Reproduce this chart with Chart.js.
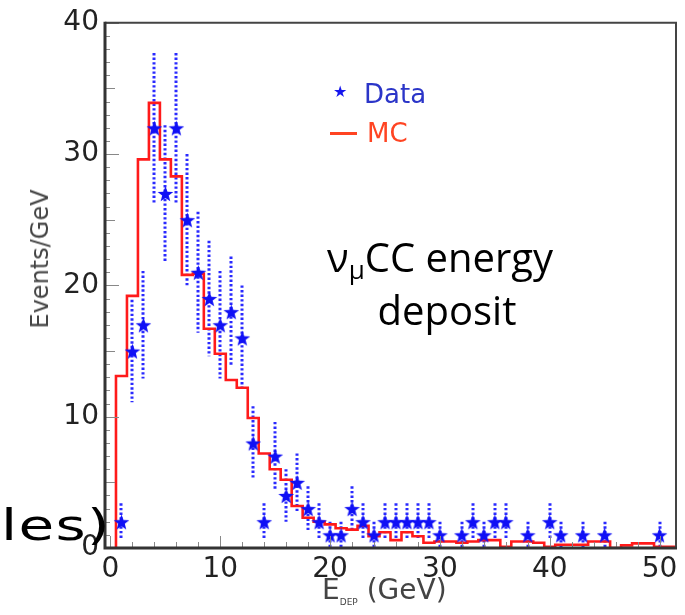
<!DOCTYPE html>
<html><head><meta charset="utf-8">
<script src="https://cdn.jsdelivr.net/npm/chart.js@4"></script>
<style>
html,body{margin:0;padding:0;background:#fff;width:685px;height:615px;overflow:hidden;}
#wrap{position:relative;width:685px;height:615px;}
canvas{position:absolute;left:0;top:0;}
.t{position:absolute;white-space:nowrap;line-height:1;}
</style></head><body>
<div id="wrap">
<canvas id="c" width="685" height="615"></canvas>
<div class="t" style="left:40px;top:259px;transform:translate(-50%,-50%) rotate(-90deg);font-family:'DejaVu Sans';font-size:24px;color:#444">Events/GeV</div>
<div class="t" style="left:322px;top:576px;font-family:'DejaVu Sans';font-size:28px;color:#444">E<span style="font-size:9px;vertical-align:-6px">DEP</span> (GeV)</div>
<div class="t" style="left:333px;top:84px;font-family:'DejaVu Sans';font-size:16px;color:#1515ee">★</div>
<div class="t" style="left:364px;top:81px;font-family:'DejaVu Sans';font-size:26px;color:#2b35c8">Data</div>
<div style="position:absolute;left:330px;top:132px;width:27px;height:2.5px;background:#ff4422"></div>
<div class="t" style="left:367px;top:120px;font-family:'DejaVu Sans';font-size:26px;color:#ff4422">MC</div>
<div class="t" style="left:327px;top:237px;font-family:'Open Sans';font-size:40px;color:#000">ν<span style="font-size:26px;vertical-align:-7px">μ</span>CC energy</div>
<div class="t" style="left:447px;top:290px;transform:translateX(-50%);font-family:'Open Sans';font-size:40px;color:#000">deposit</div>
<div class="t" style="left:1px;top:505px;font-family:'DejaVu Sans';font-size:42px;letter-spacing:1px;transform:scaleX(1.38);transform-origin:0 0;color:#000">les)</div>
</div>
<script>
// Data points (stars) with error bars
const dataE = [1,2,3,4,5,6,7,8,9,10,11,12,13,14,15,16,17,18,19,20,21,22,23,24,25,26,27,28,29,30,32,33,34,35,36,38,40,41,43,45,50];
const dataN = [2,15,17,32,27,32,25,21,19,17,18,16,8,2,7,4,5,3,2,1,1,3,2,1,2,2,2,2,2,1,1,2,1,2,2,1,2,1,1,1,1];
const dataErr = [1.4,3.9,4.1,5.7,5.2,5.7,5.0,4.6,4.4,4.1,4.2,4.0,2.8,1.4,2.6,2.0,2.2,1.7,1.4,1.0,1.0,1.7,1.4,1.0,1.4,1.4,1.4,1.4,1.4,1.0,1.0,1.4,1.0,1.4,1.4,1.0,1.4,1.0,1.0,1.0,1.0];
// MC histogram (bin centres, 1 GeV bins)
const mcE = [1,2,3,4,5,6,7,8,9,10,11,12,13,14,15,16,17,18,19,20,21,22,23,24,25,26,27,28,29,30,31,32,33,34,35,36,37,38,39,40,41,42,43,44,45,46,47,48,49,50,51];
const mcV = [1.8,13.1,19.2,29.6,33.9,29.6,28.3,20.8,20.9,16.7,14.8,12.8,12.2,9.9,7.2,6.0,5.2,3.2,2.3,2.0,1.8,1.5,1.4,1.7,0.9,1.2,0.6,1.2,0.9,0.4,0.5,0.5,0.4,0.5,0.6,0.6,0.1,0.5,0.5,0.4,0.1,0.25,0.25,0.25,0.5,0.5,0.0,0.2,0.35,0.35,0.1];
const xTicks = [0,10,20,30,40,50];
const yTicks = [0,10,20,30,40];

function makeStar(r, color){
  const s = Math.ceil(r*2+2);
  const c = document.createElement('canvas'); c.width = s; c.height = s;
  const g = c.getContext('2d'); g.fillStyle = color; g.beginPath();
  for (let k=0;k<10;k++){
    const rr = k%2 ? r*0.42 : r;
    const a = -Math.PI/2 + k*Math.PI/5;
    g.lineTo(s/2 + rr*Math.cos(a), s/2 + 1 + rr*Math.sin(a));
  }
  g.closePath(); g.fill();
  return c;
}
const star = makeStar(8.2, '#1010f5');

const mcPts = [{x: mcE[0]-0.5, y: 0}].concat(mcE.map((e,i)=>({x:e-0.5, y:mcV[i]})));
mcPts.push({x: mcE[mcE.length-1]+0.5, y: mcV[mcV.length-1]});

const deco = {
  id: 'deco',
  beforeDatasetsDraw(chart){
    const {ctx, scales:{x,y}, chartArea:a} = chart;
    ctx.save();
    ctx.beginPath(); ctx.rect(a.left, a.top, a.right-a.left, a.bottom-a.top); ctx.clip();
    ctx.strokeStyle = '#2a2aff'; ctx.lineWidth = 3; ctx.setLineDash([2.4,2.2]);
    dataE.forEach((e,i)=>{
      const px = Math.round(x.getPixelForValue(e));
      ctx.beginPath();
      ctx.moveTo(px, y.getPixelForValue(dataN[i]+dataErr[i]));
      ctx.lineTo(px, y.getPixelForValue(dataN[i]-dataErr[i]));
      ctx.stroke();
    });
    ctx.restore();
  },
  afterDraw(chart){
    const {ctx, scales:{x,y}, chartArea:a} = chart;
    ctx.save();
    ctx.strokeStyle = '#888'; ctx.lineWidth = 1;
    for (let v=0; v<=40; v++){
      const py = Math.round(y.getPixelForValue(v))+0.5;
      const len = v%10===0 ? 14 : (v%5===0 ? 10 : 5);
      ctx.beginPath(); ctx.moveTo(a.left, py); ctx.lineTo(a.left+len, py); ctx.stroke();
    }
    for (let v=0; v<=50; v+=2){
      const px = Math.round(x.getPixelForValue(v))+0.5;
      const len = v%10===0 ? 12 : 6;
      ctx.beginPath(); ctx.moveTo(px, a.bottom); ctx.lineTo(px, a.bottom-len); ctx.stroke();
    }
    ctx.strokeStyle = '#444'; ctx.lineWidth = 2;
    ctx.beginPath(); ctx.moveTo(a.left, a.top); ctx.lineTo(a.right, a.top); ctx.lineTo(a.right, a.bottom); ctx.stroke();
    ctx.strokeStyle = '#333'; ctx.lineWidth = 3;
    ctx.beginPath(); ctx.moveTo(a.left, a.top-1); ctx.lineTo(a.left, a.bottom); ctx.lineTo(a.right+1, a.bottom); ctx.stroke();
    ctx.restore();
  }
};

new Chart(document.getElementById('c'), {
  type: 'scatter',
  data: {
    datasets: [
      { label: 'Data', data: dataE.map((e,i)=>({x:e, y:dataN[i]})), pointStyle: star, pointRadius: 8, showLine: false, order: 0 },
      { label: 'MC', data: mcPts, showLine: true, stepped: 'after', borderColor: '#ff1a1a', borderWidth: 2.6, pointRadius: 0, fill: false, order: 1 }
    ]
  },
  options: {
    responsive: false, animation: false, events: [],
    layout: { padding: { left: 0, right: 7, top: 18, bottom: 0 } },
    plugins: { legend: { display: false }, tooltip: { enabled: false } },
    scales: {
      x: {
        type: 'linear', min: -0.5, max: 51.5,
        afterFit(s){ s.height = 67; },
        afterBuildTicks(s){ s.ticks = xTicks.map(v=>({value:v})); },
        grid: { display: false, drawTicks: false },
        border: { display: false },
        ticks: { padding: 5, color: '#222', font: { family: 'DejaVu Sans', size: 28 }, maxRotation: 0, autoSkip: false }
      },
      y: {
        type: 'linear', min: 0, max: 40,
        afterFit(s){ s.width = 105; },
        afterBuildTicks(s){ s.ticks = yTicks.map(v=>({value:v})); },
        grid: { display: false, drawTicks: false },
        border: { display: false },
        ticks: { padding: 6, color: '#222', font: { family: 'DejaVu Sans', size: 28 } }
      }
    }
  },
  plugins: [deco]
});
</script>
</body></html>
